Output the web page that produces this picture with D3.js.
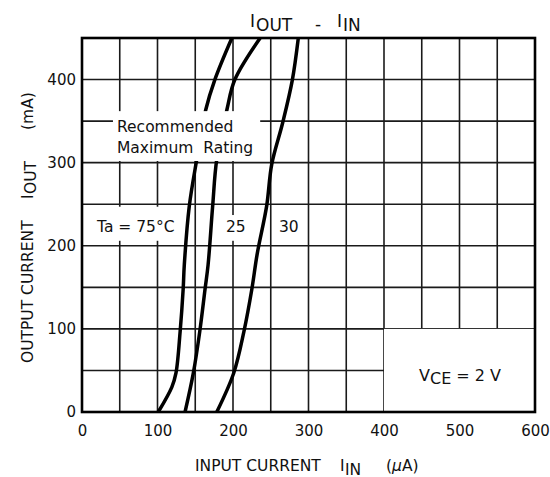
<!DOCTYPE html>
<html>
<head>
<meta charset="utf-8">
<script src="https://cdn.jsdelivr.net/npm/d3@7"></script>
<style>
  html, body { margin: 0; padding: 0; background: #fff; }
  svg { display: block; font-family: "DejaVu Sans", sans-serif; }
</style>
</head>
<body>
<svg id="chart" width="550" height="477"></svg>
<script>
// Input current (µA) vs output current (mA) at three ambient temperatures
const ta75InputUA  = [101, 119, 124.5, 130, 134, 135.5, 142, 152, 164, 176, 198.5];
const ta75OutputMA = [0, 30, 47, 97, 148, 177, 247, 304, 364, 400, 450];

const ta25InputUA  = [136.5, 147.5, 156, 163, 167, 173, 178.5, 192, 202.5, 236];
const ta25OutputMA = [0, 47, 97, 148, 177, 247, 304, 364, 400, 450];

const ta30InputUA  = [178.5, 201, 214.5, 225, 232, 244.6, 251.3, 265.8, 278.5, 286.5];
const ta30OutputMA = [0, 47, 97, 148, 190, 248, 298, 348, 399, 450];

// Axis tick labels and grid spacing
const xTickLabels = [0, 100, 200, 300, 400, 500, 600];
const yTickLabels = [0, 100, 200, 300, 400];
const xGridValues = d3.range(0, 601, 50);
const yGridValues = d3.range(0, 451, 50);

const svg = d3.select("#chart");
const plotLeft = 82, plotRight = 535, plotTop = 38, plotBottom = 412;

const x = d3.scaleLinear().domain([0, 600]).range([plotLeft, plotRight]);
const y = d3.scaleLinear().domain([0, 450]).range([plotBottom, plotTop]);

// Grid
const grid = svg.append("g").attr("stroke", "#1a1a1a").attr("stroke-width", 1.6);
grid.selectAll("line.v").data(xGridValues).join("line")
  .attr("class", "v")
  .attr("x1", d => x(d)).attr("x2", d => x(d))
  .attr("y1", plotTop).attr("y2", plotBottom);
grid.selectAll("line.h").data(yGridValues).join("line")
  .attr("class", "h")
  .attr("x1", plotLeft).attr("x2", plotRight)
  .attr("y1", d => y(d)).attr("y2", d => y(d));

// Curves
const series = [
  { name: "75", xs: ta75InputUA, ys: ta75OutputMA },
  { name: "25", xs: ta25InputUA, ys: ta25OutputMA },
  { name: "30", xs: ta30InputUA, ys: ta30OutputMA }
];
const line = d3.line()
  .x(d => x(d[0])).y(d => y(d[1]))
  .curve(d3.curveCatmullRom.alpha(0.5));

svg.append("defs").append("clipPath").attr("id", "plotClip")
  .append("rect").attr("x", plotLeft).attr("y", plotTop)
  .attr("width", plotRight - plotLeft).attr("height", plotBottom - plotTop);

svg.append("g").attr("clip-path", "url(#plotClip)")
  .selectAll("path").data(series).join("path")
  .attr("d", s => line(s.xs.map((v, i) => [v, s.ys[i]])))
  .attr("fill", "none").attr("stroke", "#000")
  .attr("stroke-width", 3.5).attr("stroke-linecap", "butt");

// White panels behind the annotations
const panels = [
  { x0: 41, x1: 236, y0: 302, y1: 362 },
  { x0: 2.5, x1: 132, y0: 206, y1: 247 },
  { x0: 185, x1: 219, y0: 206, y1: 237 },
  { x0: 400, x1: 600, y0: 0, y1: 100 }
];
svg.append("g").selectAll("rect").data(panels).join("rect")
  .attr("x", d => x(d.x0)).attr("y", d => y(d.y1))
  .attr("width", d => x(d.x1) - x(d.x0)).attr("height", d => y(d.y0) - y(d.y1))
  .attr("fill", "#fff");

// Annotations
const ann = svg.append("g").attr("font-size", 15.5).attr("fill", "#111");
ann.append("text").attr("x", 117).attr("y", 132).text("Recommended");
ann.append("text").attr("x", 117).attr("y", 152.5).text("Maximum  Rating")
  .style("white-space", "pre");
ann.append("text").attr("x", 97).attr("y", 232).text("Ta = 75°C");
ann.append("text").attr("x", 226).attr("y", 232).text("25");
ann.append("text").attr("x", 279).attr("y", 232).text("30");

const vce = ann.append("text").attr("x", 419).attr("y", 381).attr("font-size", 16);
vce.append("tspan").text("V");
vce.append("tspan").attr("dy", 3).text("CE");
vce.append("tspan").attr("dy", -3).style("white-space", "pre").text(" = 2 V");

// Frame
svg.append("rect")
  .attr("x", plotLeft).attr("y", plotTop)
  .attr("width", plotRight - plotLeft).attr("height", plotBottom - plotTop)
  .attr("fill", "none").attr("stroke", "#000").attr("stroke-width", 2.6);

// Axes tick labels
const xAxis = svg.append("g")
  .attr("transform", `translate(0,${plotBottom})`)
  .call(d3.axisBottom(x).tickValues(xTickLabels).tickSize(0).tickPadding(13));
const yAxis = svg.append("g")
  .attr("transform", `translate(${plotLeft},0)`)
  .call(d3.axisLeft(y).tickValues(yTickLabels).tickSize(0).tickPadding(6));
[xAxis, yAxis].forEach(a => {
  a.select(".domain").remove();
  a.selectAll("text").attr("font-size", 15).attr("fill", "#111")
    .attr("font-family", "DejaVu Sans, sans-serif");
});

// Title
const title = svg.append("text").attr("font-size", 17).attr("fill", "#111");
title.append("tspan").attr("x", 250).attr("y", 27).text("I");
title.append("tspan").attr("x", 256).attr("y", 31).text("OUT");
title.append("tspan").attr("x", 315).attr("y", 30).text("-");
title.append("tspan").attr("x", 337).attr("y", 27).text("I");
title.append("tspan").attr("x", 343).attr("y", 31).text("IN");

// X axis title
const xt = svg.append("text").attr("font-size", 15.5).attr("fill", "#111");
xt.append("tspan").attr("x", 195).attr("y", 471).text("INPUT CURRENT");
xt.append("tspan").attr("x", 340).attr("y", 471).text("I");
xt.append("tspan").attr("x", 345).attr("y", 474.5).text("IN");
xt.append("tspan").attr("x", 386).attr("y", 471).text("(");
xt.append("tspan").attr("font-style", "italic").text("µ");
xt.append("tspan").text("A)");

// Y axis title
const yt = svg.append("text").attr("font-size", 15.5).attr("fill", "#111")
  .attr("transform", "translate(33,363) rotate(-90)");
yt.append("tspan").attr("x", 0).attr("y", 0).text("OUTPUT CURRENT");
yt.append("tspan").attr("x", 164).attr("y", 0).text("I");
yt.append("tspan").attr("x", 169).attr("y", 3).text("OUT");
yt.append("tspan").attr("x", 233).attr("y", 0).text("(mA)");
</script>
</body>
</html>
